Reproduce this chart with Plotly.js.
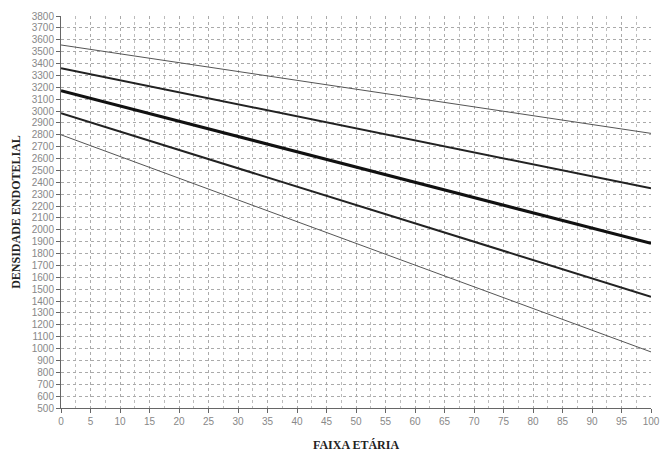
<!DOCTYPE html>
<html>
<head>
<meta charset="utf-8">
<script src="https://cdn.plot.ly/plotly-3.0.1.min.js"></script>
<style>html,body{margin:0;padding:0;background:#fff;}#chart{width:660px;height:454px;}</style>
</head>
<body>
<div id="chart"></div>
<script>
const ages = [0, 50, 100];
const line1 = [3556, 3182, 2812];
const line2 = [3360, 2855, 2349];
const line3 = [3171, 2530, 1886];
const line4 = [2981, 2210, 1437];
const line5 = [2800, 1887, 972];
const xTicks = [0,5,10,15,20,25,30,35,40,45,50,55,60,65,70,75,80,85,90,95,100];

const series = [
  {y: line1, w: 1, c: '#555'},
  {y: line2, w: 2, c: '#222'},
  {y: line3, w: 3, c: '#111'},
  {y: line4, w: 2, c: '#222'},
  {y: line5, w: 1, c: '#555'}
];
const traces = series.map(s => ({
  x: ages, y: s.y, type: 'scatter', mode: 'lines',
  line: {color: s.c, width: s.w}, hoverinfo: 'skip', showlegend: false
}));

const layout = {
  width: 660, height: 454,
  margin: {l: 61, r: 9, t: 16, b: 46},
  paper_bgcolor: '#fff', plot_bgcolor: '#fff',
  showlegend: false,
  xaxis: {
    range: [0, 100], tickvals: xTicks, ticktext: xTicks.map(String),
    showgrid: true, gridcolor: '#aaa', griddash: 'dot', gridwidth: 1,
    minor: {dtick: 2.5, tick0: 0, showgrid: true, gridcolor: '#bbb', griddash: 'dot', gridwidth: 1},
    showline: true, linecolor: '#666', linewidth: 1,
    ticks: 'outside', ticklen: 4, tickcolor: '#666',
    zeroline: false,
    tickfont: {family: 'Liberation Sans, Arial, sans-serif', size: 10, color: '#888'},
    title: {text: 'FAIXA ETÁRIA', standoff: 14,
      font: {family: 'Liberation Serif, Times New Roman, serif', size: 12, color: '#222', weight: 'bold'}}
  },
  yaxis: {
    range: [500, 3800], dtick: 100, tick0: 500,
    showgrid: true, gridcolor: '#aaa', griddash: 'dot', gridwidth: 1,
    showline: true, linecolor: '#666', linewidth: 1,
    ticks: 'outside', ticklen: 4, tickcolor: '#666',
    zeroline: false,
    tickfont: {family: 'Liberation Sans, Arial, sans-serif', size: 10, color: '#888'},
    title: {text: 'DENSIDADE ENDOTELIAL', standoff: 8,
      font: {family: 'Liberation Serif, Times New Roman, serif', size: 12, color: '#222', weight: 'bold'}}
  }
};
Plotly.newPlot('chart', traces, layout, {staticPlot: true, displayModeBar: false});
</script>
</body>
</html>
